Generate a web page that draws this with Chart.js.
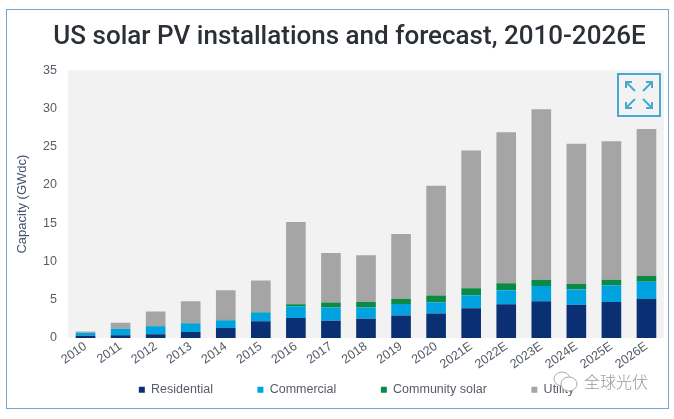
<!DOCTYPE html>
<html>
<head>
<meta charset="utf-8">
<script src="https://cdn.jsdelivr.net/npm/chart.js@4"></script>
<style>
  html, body { margin: 0; background: #fff; }
  #wrap { position: relative; width: 674px; height: 419px; overflow: hidden; filter: blur(0.35px); }
  #frame { position: absolute; left: 6px; top: 9px; width: 661px; height: 398px; border: 1px solid #74a6d6; pointer-events: none; }
  #expand { position: absolute; left: 617px; top: 73px; }
  #mark { position: absolute; left: 584px; top: 367px; font: 300 16px/28px "Noto Sans CJK SC"; color: #999; width: 70px; white-space: nowrap; }
  #logo { position: absolute; left: 553px; top: 371px; }
</style>
</head>
<body>
<div id="wrap">
  <canvas id="chart" width="674" height="419"></canvas>
  <div id="frame"></div>
  <svg id="expand" width="44" height="44" viewBox="0 0 44 44" fill="none" stroke="#4aa8d0" stroke-width="2">
    <rect x="1" y="1" width="42" height="42"/>
    <path d="M9 9 L18 18 M9 15 V9 H15"/>
    <path d="M35 9 L26 18 M29 9 H35 V15"/>
    <path d="M9 35 L18 26 M9 29 V35 H15"/>
    <path d="M35 35 L26 26 M29 35 H35 V29"/>
  </svg>
  <svg id="logo" width="26" height="22" viewBox="0 0 26 22" fill="none" stroke="#aaa" stroke-width="1">
    <ellipse cx="9" cy="8" rx="8" ry="7" fill="#fff"/>
    <ellipse cx="16" cy="13" rx="8" ry="7" fill="#fff"/>
  </svg>
  <div id="mark">全球光伏</div>
</div>
<script>
const categories = ['2010', '2011', '2012', '2013', '2014', '2015', '2016', '2017', '2018', '2019', '2020', '2021E', '2022E', '2023E', '2024E', '2025E', '2026E']
const residential = [0.3, 0.35, 0.5, 0.8, 1.3, 2.2, 2.6, 2.25, 2.5, 2.95, 3.2, 3.9, 4.4, 4.8, 4.35, 4.7, 5.1]
const commercial = [0.4, 0.85, 1.05, 1.1, 1.0, 1.1, 1.55, 1.75, 1.5, 1.5, 1.45, 1.7, 1.85, 2.0, 2.0, 2.2, 2.25]
const community = [0, 0, 0.05, 0.05, 0.1, 0.05, 0.25, 0.65, 0.7, 0.65, 0.9, 0.9, 0.9, 0.8, 0.7, 0.7, 0.75]
const utility = [0.15, 0.8, 1.85, 2.85, 3.85, 4.15, 10.75, 6.45, 6.1, 8.5, 14.35, 18.0, 19.75, 22.3, 18.35, 18.1, 19.2]
const yTicks = [0, 5, 10, 15, 20, 25, 30, 35]

const textColor = '#565c68'

const placeBoxes = {
  id: 'placeBoxes',
  afterLayout(chart) {
    chart.titleBlock.left += 12
    chart.titleBlock.right += 12
    chart.legend.left += 19
    chart.legend.right += 19
    chart.legend.top = 339
    // rotated labels hang below the short axis box, so open up its clip area
    chart.scales.x.bottom = 380
  },
  beforeDraw(chart) {
    const { ctx, chartArea } = chart
    ctx.save()
    ctx.fillStyle = '#f2f2f2'
    ctx.fillRect(chartArea.left, chartArea.top, chartArea.width, chartArea.height)
    ctx.restore()
  },
}

new Chart(document.getElementById('chart'), {
  type: 'bar',
  data: {
    labels: categories,
    datasets: [
      { label: 'Residential', data: residential, backgroundColor: '#0b2f73' },
      { label: 'Commercial', data: commercial, backgroundColor: '#00a3e0' },
      { label: 'Community solar', data: community, backgroundColor: '#0a8a45' },
      { label: 'Utility', data: utility, backgroundColor: '#a5a5a5' },
    ],
  },
  plugins: [placeBoxes],
  options: {
    responsive: false,
    animation: false,
    layout: { padding: { left: 11, right: 10, top: 16, bottom: 0 } },
    datasets: { bar: { categoryPercentage: 1, barPercentage: 0.56 } },
    scales: {
      x: {
        stacked: true,
        grid: { display: false, drawTicks: false },
        border: { display: false },
        ticks: { color: textColor, font: { family: 'Liberation Sans', size: 12.5 }, maxRotation: 35, minRotation: 35, autoSkip: false, padding: 1 },
        afterFit(scale) { scale.height = 14 },
      },
      y: {
        stacked: true,
        min: 0,
        max: 35,
        grid: { display: false },
        border: { display: false },
        afterBuildTicks(scale) { scale.ticks = yTicks.map((value) => ({ value })) },
        ticks: { color: textColor, font: { family: 'Liberation Sans', size: 12.5 }, padding: 3 },
        title: { display: true, text: 'Capacity (GWdc)', color: '#44546a', font: { family: 'Liberation Sans', size: 13 } },
        afterFit(scale) { scale.width = 57 },
      },
    },
    plugins: {
      tooltip: { enabled: false },
      title: {
        display: true,
        text: 'US solar PV installations and forecast, 2010-2026E',
        color: '#2b2f36',
        font: { family: 'Roboto', size: 26, weight: '500' },
        padding: { top: 6, bottom: 17 },
      },
      legend: {
        position: 'bottom',
        labels: { boxWidth: 6, boxHeight: 6, padding: 44.5, color: textColor, font: { family: 'Liberation Sans', size: 12.5 } },
      },
    },
  },
})
</script>
</body>
</html>
